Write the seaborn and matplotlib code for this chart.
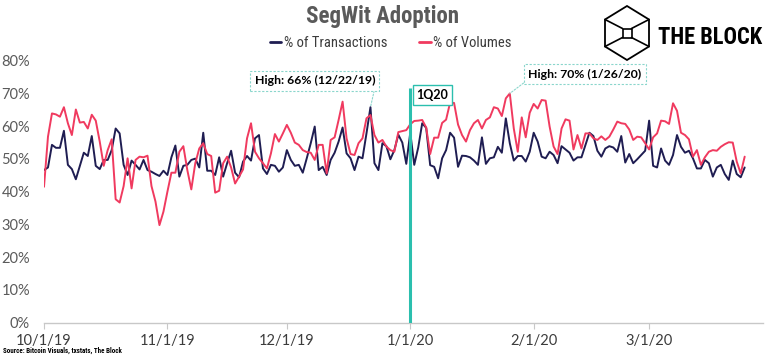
import numpy as np
import pandas as pd
import matplotlib
matplotlib.use("Agg")
import matplotlib.pyplot as plt
import seaborn as sns
from matplotlib.lines import Line2D
from matplotlib.patches import Polygon, Rectangle
from matplotlib import font_manager

# ---------------- data ----------------
start_date = "2019-10-01"
transactions = [
    46.6, 47.4, 54.3, 53.4, 53.4, 58.6, 48.2, 46.9, 43.8, 47.9, 51.9, 50.9, 57.0, 47.9, 46.9, 49.7, 49.7, 52.7,
    59.3, 57.8, 48.2, 45.1, 49.5, 48.2, 46.8, 49.7, 46.6, 46.1, 45.4, 44.8, 46.4, 45.1, 50.5, 54.1, 44.6,
    47.9, 48.2, 49.7, 50.1, 47.4, 58.0, 46.4, 46.4, 45.1, 50.5, 44.6, 48.7, 52.5, 45.8, 44.4, 49.2, 50.9,
    49.5, 56.3, 57.3, 47.1, 45.4, 48.2, 47.9, 46.1, 47.4, 52.7, 49.7, 47.9, 48.2, 45.8, 50.2, 54.8, 59.9, 46.6,
    47.6, 45.1, 49.7, 51.9, 55.3, 59.6, 51.7, 50.2, 46.6, 50.7, 50.2, 57.8, 65.8, 48.7, 46.6, 54.8, 53.9, 49.9, 52.7,
    57.4, 55.0, 48.5, 58.0, 48.2, 53.5, 60.9, 59.5, 48.1, 47.6, 44.1, 50.2, 52.7, 58.0, 56.5, 47.6,
    51.0, 50.9, 50.5, 49.5, 48.2, 56.6, 48.5, 50.2, 50.5, 53.7, 51.9, 62.4, 54.8, 49.5, 50.9, 50.9, 49.2, 52.2,
    58.0, 55.3, 50.7, 50.2, 52.2, 51.2, 48.7, 53.9, 52.9, 51.9, 49.5, 50.5, 50.5, 54.3, 58.0, 57.0, 52.5,
    50.7, 53.2, 53.9, 53.5, 52.2, 57.0, 48.9, 51.5, 48.7, 49.9, 51.2, 52.5, 61.7, 47.9, 47.4, 53.2, 49.5, 48.2,
    51.2, 57.3, 53.7, 51.9, 52.5, 50.2, 47.1, 47.1, 49.7, 48.7, 44.6, 47.4, 48.2, 45.4, 43.6, 49.5, 45.4, 44.4, 47.4,
]
volumes = [
    41.5, 56.8, 63.9, 63.6, 62.9, 65.8, 60.9, 57.3, 65.1, 61.1, 61.3, 59.3, 63.5, 61.7, 55.3, 47.9, 52.7, 56.0,
    37.7, 36.7, 41.7, 50.2, 41.0, 49.7, 50.7, 50.5, 51.0, 41.7, 37.0, 29.8, 33.9, 40.0, 45.8, 45.8, 52.2,
    53.9, 46.6, 40.7, 48.7, 53.2, 54.8, 51.5, 50.9, 39.7, 40.3, 48.7, 50.7, 47.4, 42.5, 44.6, 46.8, 56.3,
    60.9, 52.2, 50.2, 48.7, 47.1, 51.7, 57.6, 55.3, 57.8, 60.4, 58.0, 55.0, 54.3, 52.7, 52.1, 51.9, 49.7, 54.3,
    54.3, 45.6, 55.8, 56.6, 61.9, 67.5, 56.3, 51.5, 51.2, 54.8, 56.3, 62.4, 63.4, 57.3, 55.0, 55.8, 53.8, 52.7, 52.2,
    58.2, 58.5, 58.8, 60.6, 61.6, 61.7, 61.9, 59.6, 51.5, 56.5, 56.5, 61.0, 62.0, 67.2, 67.1, 60.5,
    57.3, 55.3, 58.8, 60.9, 61.9, 59.3, 61.9, 62.7, 65.8, 65.4, 63.1, 68.5, 70.0, 59.3, 52.2, 62.7, 56.6, 64.1,
    66.8, 65.4, 68.0, 67.8, 59.9, 53.8, 51.5, 59.3, 62.1, 61.7, 52.9, 57.3, 53.2, 57.8, 57.8, 56.3, 55.8, 56.9,
    55.8, 56.8, 59.0, 61.4, 60.9, 60.7, 59.0, 55.8, 56.8, 56.6, 54.8, 52.9, 56.6, 57.8, 61.7, 61.5, 60.7, 67.0,
    64.7, 58.0, 57.3, 56.0, 50.7, 52.7, 48.2, 50.5, 52.2, 52.7, 52.5, 53.7, 54.5, 55.1, 55.0, 49.2, 45.6, 50.7,
]
series_names = ["% of Transactions", "% of Volumes"]
y_ticks = [0, 10, 20, 30, 40, 50, 60, 70, 80]
x_tick_dates = ["2019-10-01", "2019-11-01", "2019-12-01", "2020-01-01", "2020-02-01", "2020-03-01"]
x_tick_labels = ["10/1/19", "11/1/19", "12/1/19", "1/1/20", "2/1/20", "3/1/20"]
quarter_date = "2020-01-01"
quarter_label = "1Q20"
quarter_line_top = 71.7
tx_high_label = "High: 66% (12/22/19)"
vol_high_label = "High: 70% (1/26/20)"

# ---------------- styling ----------------
NAVY = "#1f1d52"
PINK = "#f03a5f"
TEAL = "#2bbfae"
LTEAL = "#8ad6cc"
GRAY = "#5a5a5a"

sns.set_style("white")
plt.rcParams["font.family"] = ["Lato", "DejaVu Sans"]

installed = {f.name for f in font_manager.fontManager.ttflist}
narrow = [f for f in ["Liberation Sans Narrow", "Roboto Condensed", "Open Sans Condensed"] if f in installed]
COND = narrow + ["Lato", "DejaVu Sans"]
has_narrow = len(narrow) > 0

W, H = 766, 356
fig = plt.figure(figsize=(W / 100, H / 100), dpi=100)
x0, x1, y_top, y_bot = 44, 763, 60.7, 322.7
ax = fig.add_axes([x0 / W, 1 - y_bot / H, (x1 - x0) / W, (y_bot - y_top) / H])

dates = pd.date_range(start_date, periods=len(volumes), freq="D")
df = pd.DataFrame({
    "date": list(dates) + list(dates),
    "value": transactions + volumes,
    "series": [series_names[0]] * len(dates) + [series_names[1]] * len(dates),
})
palette = {series_names[0]: NAVY, series_names[1]: PINK}
sns.lineplot(data=df, x="date", y="value", hue="series", palette=palette,
             linewidth=1.4, ax=ax, legend=False)

# quarter marker
qd = pd.Timestamp(quarter_date)
ax.vlines(qd, 0, quarter_line_top, color=TEAL, linewidth=2.2, zorder=4)
ax.annotate(quarter_label, xy=(qd, quarter_line_top), xytext=(16, -5), textcoords="offset points",
            ha="center", va="center", fontsize=9, fontweight="bold", color="black",
            bbox=dict(boxstyle="square,pad=0.3", fc="white", ec=TEAL, lw=1.0), zorder=5)

# highs
it = int(np.argmax(transactions))
iv = int(np.argmax(volumes))
ax.annotate(tx_high_label, xy=(dates[it], transactions[it]), xytext=(-40, 19), textcoords="offset points",
            ha="center", va="center", fontsize=8.8, fontweight="bold", color="black",
            bbox=dict(boxstyle="square,pad=0.35", fc="white", ec=LTEAL, lw=0.8, ls=(0, (2, 1.5))),
            arrowprops=dict(arrowstyle="-", color=LTEAL, lw=0.8, ls=(0, (1.5, 1.5)), relpos=(1, 0),
                            shrinkA=0, shrinkB=0), zorder=5)
ax.annotate(vol_high_label, xy=(dates[iv], volumes[iv]), xytext=(54, 14), textcoords="offset points",
            ha="center", va="center", fontsize=8.8, fontweight="bold", color="black",
            bbox=dict(boxstyle="square,pad=0.35", fc="white", ec=LTEAL, lw=0.8, ls=(0, (2, 1.5))),
            arrowprops=dict(arrowstyle="-", color=LTEAL, lw=0.8, ls=(0, (1.5, 1.5)), relpos=(0, 0),
                            shrinkA=0, shrinkB=0), zorder=5)

# axes
ax.set_ylim(0, 80)
ax.set_xlim(dates[0], dates[0] + pd.Timedelta(days=180.6))
ax.set_yticks(y_ticks)
ax.set_yticklabels([f"{v}%" for v in y_ticks])
ax.set_xticks(pd.to_datetime(x_tick_dates))
ax.set_xticklabels(x_tick_labels)
ax.set_xlabel("")
ax.set_ylabel("")
for s in ["top", "right", "left"]:
    ax.spines[s].set_visible(False)
ax.spines["bottom"].set_color("#c8c8c8")
ax.spines["bottom"].set_linewidth(1.0)
ax.tick_params(axis="x", which="major", length=4, width=0.8, color="#c8c8c8", pad=4,
               labelsize=10.5, labelcolor="#3c3c3c", bottom=True)
ax.tick_params(axis="y", length=0, pad=10, labelsize=10.5, labelcolor=GRAY)
ax.grid(False)

# title & legend
fig.text(0.5, 1 - 17 / H, "SegWit Adoption", ha="center", va="center",
         fontsize=16.5 if has_narrow else 14.5, family=COND,
         fontweight="bold", color=GRAY)
handles = [Line2D([0], [0], color=NAVY, lw=2), Line2D([0], [0], color=PINK, lw=2)]
leg = fig.legend(handles, series_names, loc="center", bbox_to_anchor=(0.51, 1 - 43 / H), ncol=2,
                 frameon=False, handlelength=0.8, handletextpad=0.15, columnspacing=2.2,
                 prop=dict(family=COND, size=10.5 if has_narrow else 9.5))
for t in leg.get_texts():
    t.set_color("#3c3c3c")

# logo
def P(x, y):
    return (x / W, 1 - y / H)

cx, cy, r, w = 627, 33, 27, 22
hexv = [P(cx, cy - r), P(cx + w, cy - r / 2), P(cx + w, cy + r / 2), P(cx, cy + r),
        P(cx - w, cy + r / 2), P(cx - w, cy - r / 2)]
fig.patches.append(Polygon(hexv, closed=True, fill=False, ec="black", lw=1.3, transform=fig.transFigure))
s = 4.5
for (vx, vy), (ix, iy) in [((cx - w, cy - r / 2), (cx - s, cy - s)), ((cx + w, cy - r / 2), (cx + s, cy - s)),
                           ((cx - w, cy + r / 2), (cx - s, cy + s)), ((cx + w, cy + r / 2), (cx + s, cy + s))]:
    fig.lines.append(Line2D([vx / W, ix / W], [1 - vy / H, 1 - iy / H], color="black", lw=1.2,
                            transform=fig.transFigure))
fig.patches.append(Rectangle(P(cx - s, cy + s), 2 * s / W, 2 * s / H, fill=False, ec="black", lw=1.2,
                             transform=fig.transFigure))
logo = fig.text(658 / W, 1 - 37 / H, "THE BLOCK", ha="left", va="center",
                fontsize=18 if has_narrow else 15.5, family=COND, fontweight="bold", color="black")
# shrink the logo text until it fits the reference width (658..763 px)
fig.canvas.draw()
renderer = fig.canvas.get_renderer()
for _ in range(20):
    bb = logo.get_window_extent(renderer)
    if bb.x1 <= 763:
        break
    logo.set_fontsize(logo.get_fontsize() * 0.95)

fig.text(3 / W, 1 - 351 / H, "Source: Bitcoin Visuals, txstats, The Block", ha="left", va="center",
         fontsize=5, fontweight="bold", color="black", family=COND)

fig.savefig("out.png", dpi=100)
